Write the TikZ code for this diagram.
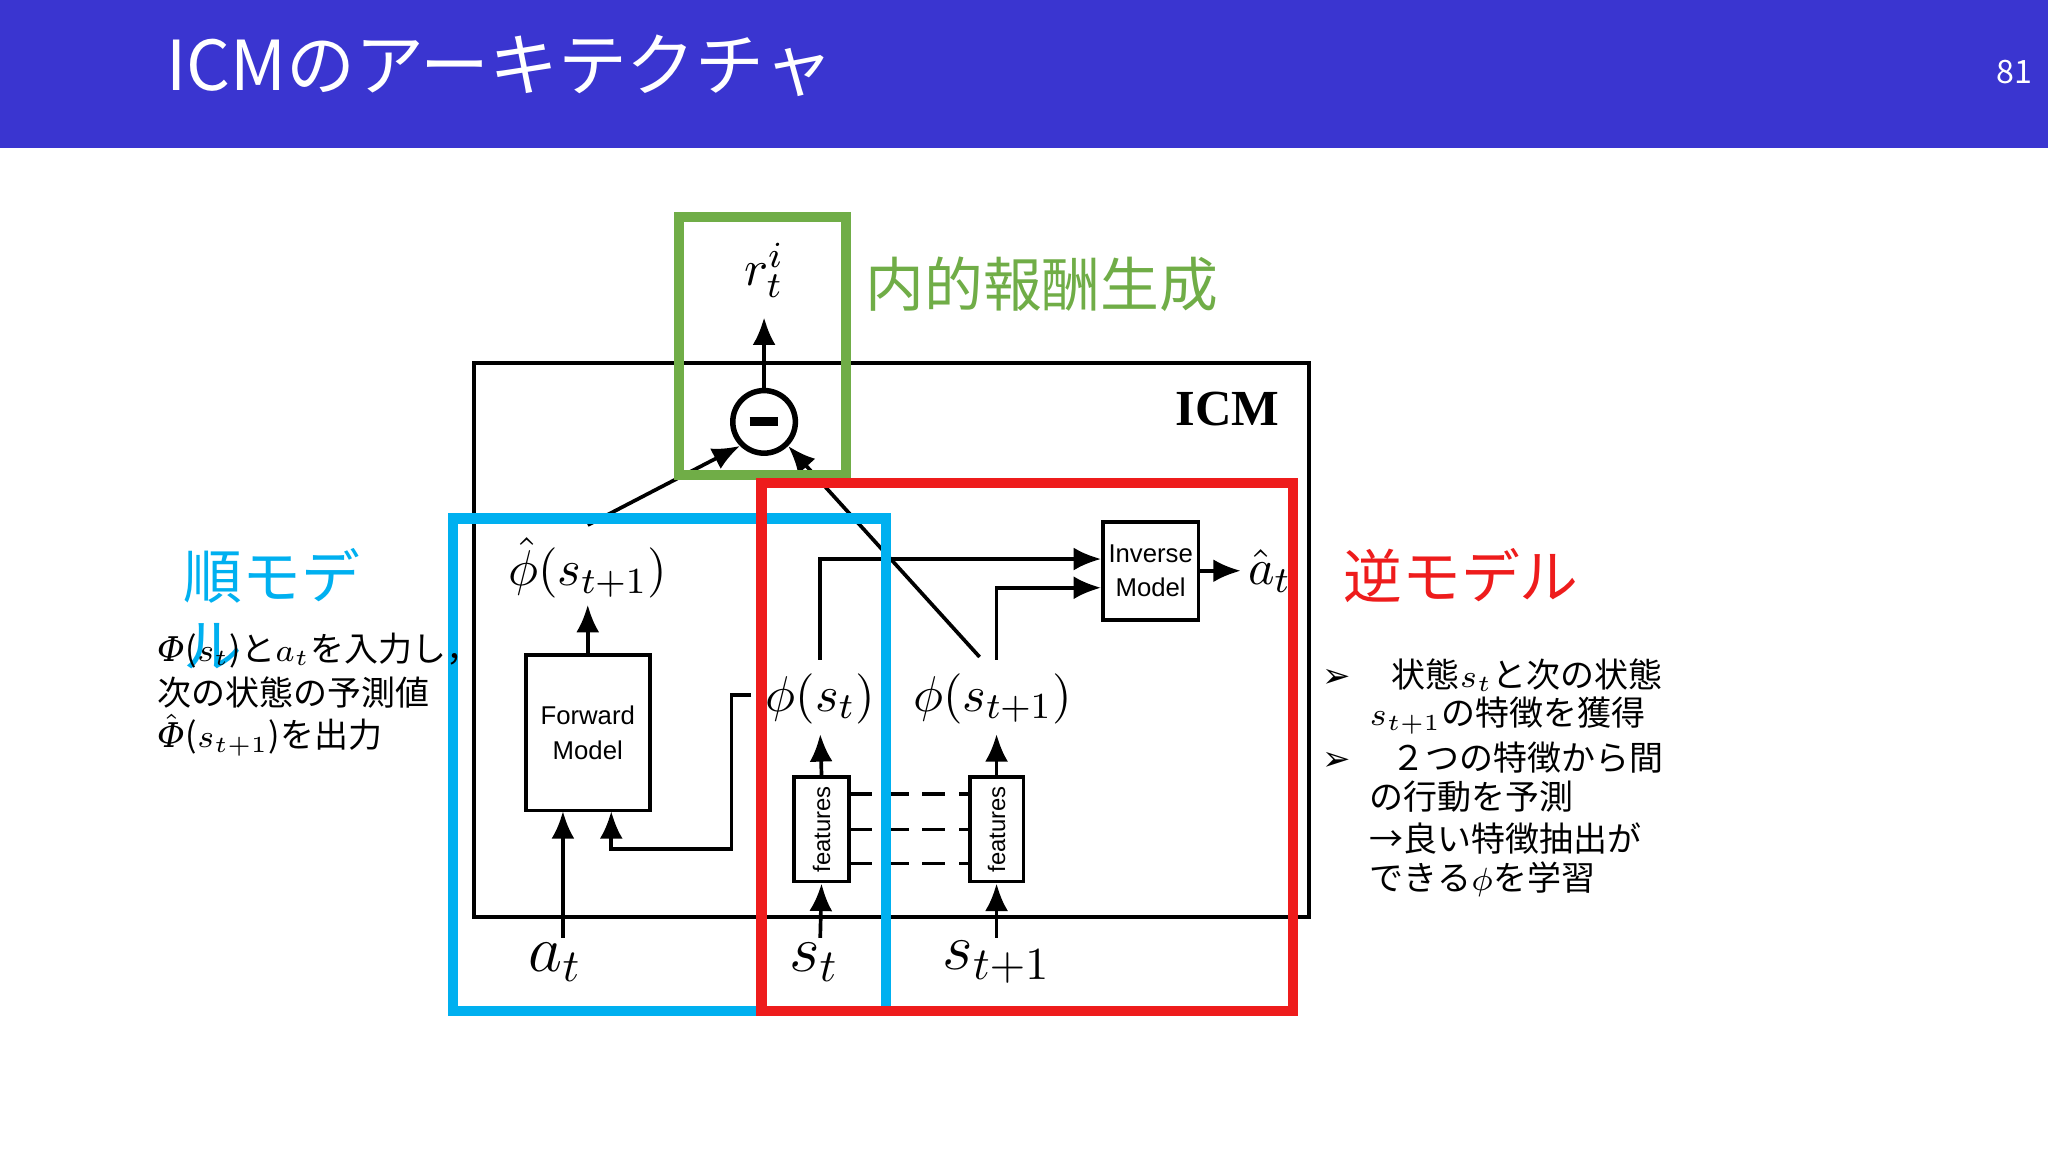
\documentclass[tikz,border=0pt]{standalone}
\usepackage{fontspec}
\usepackage{amsmath}
\setmainfont{Noto Sans CJK JP}
\newfontfamily\arialfont{Liberation Sans}
\newfontfamily\timesfont{Liberation Serif}
\newfontfamily\dejavufont{DejaVu Sans}
\newfontfamily\dejavuserif{DejaVu Serif}
\newcommand{\bigPhi}{{\dejavuserif\itshape Φ}}
\usetikzlibrary{arrows.meta}
\definecolor{titleblue}{HTML}{3A35D0}
\definecolor{icmgreen}{HTML}{70AD47}
\definecolor{icmcyan}{HTML}{00B0F0}
\definecolor{icmred}{HTML}{EE1C1C}
\tikzset{
  arr/.style={thick, -{Latex[length=6pt,width=5pt]}},
  blk/.style={draw, thick, inner sep=0pt},
  mlab/.style={font=\fontsize{11}{12}\selectfont},
  jtext/.style={anchor=west, font=\fontsize{7.4}{9}\selectfont, inner sep=0pt}
}
\begin{document}
\begin{tikzpicture}[x=0.01cm, y=-0.01cm]
	\useasboundingbox (0,0) rectangle (1568,882);
	\fill [white] (0,0) rectangle (1568,882);
	\fill [titleblue] (0,0) rectangle (1568,113);
	\node [anchor=west, white, font=\fontsize{15}{16}\selectfont] (title) at (115,50) {ICMのアーキテクチャ};
	\node [white, font=\fontsize{7}{8}\selectfont] (pnum) at (1542,55) {81};

	% ICM frame
	\draw [thick] (363,278) rectangle (1002,702);
	\node [font=\fontsize{11}{12}\selectfont\timesfont\bfseries] (icm) at (940,313) {ICM};

	% reward part
	\node [mlab] (rew) at (585,207) {$r_t^i$};
	\node [circle, draw, very thick, minimum size=48pt*0.01/0.0352, inner sep=0pt] (minus) at (585,323) {};
	\draw [line width=2pt] (574,323) -- (596,323);
	\draw [arr] (minus) -- (585,243);

	% forward model
	\node [mlab] (phihat) at (450,435) {$\hat{\phi}(s_{t+1})$};
	\node [blk, minimum width=95*0.01cm, minimum height=119*0.01cm, align=center,
	  font=\fontsize{5.6}{7.5}\selectfont\arialfont] (fwd) at (450,561) {Forward\\Model};
	\draw [arr] (fwd.north) -- (450,463);
	\node [font=\fontsize{14}{16}\selectfont] (at) at (425,737) {$a_t$};
	\draw [arr] (431,718) -- (431,621);
	\draw [arr] (450,402) -- (minus.south west);

	% features
	\node [blk, minimum width=42*0.01cm, minimum height=80*0.01cm] (feat1) at (629,635) {};
	\node [rotate=90, font=\fontsize{5.2}{6}\selectfont\arialfont] at (feat1) {features};
	\node [blk, minimum width=41*0.01cm, minimum height=80*0.01cm] (feat2) at (763,635) {};
	\node [rotate=90, font=\fontsize{5.2}{6}\selectfont\arialfont] at (feat2) {features};
	\foreach \yy in {608,635,661}
		\draw [thick, dashed, dash pattern=on 5pt off 3pt] (650,\yy) -- (743,\yy);

	\node [font=\fontsize{14}{16}\selectfont] (st) at (623,737) {$s_t$};
	\node [font=\fontsize{14}{16}\selectfont] (stt) at (763,737) {$s_{t+1}$};
	\draw [arr] (628,718) -- (feat1.south);
	\draw [arr] (763,718) -- (feat2.south);

	\node [mlab] (phist) at (628,535) {$\phi(s_t)$};
	\node [mlab] (phistt) at (760,535) {$\phi(s_{t+1})$};
	\draw [arr] (feat1.north) -- (628,562);
	\draw [arr] (feat2.north) -- (763,562);
	\draw [arr] (575,532) -- (560,532) -- (560,650) -- (468,650) -- (468,621);

	% inverse model
	\node [blk, minimum width=73*0.01cm, minimum height=75*0.01cm, align=center,
	  font=\fontsize{5.6}{7.5}\selectfont\arialfont] (inv) at (881,437) {Inverse\\Model};
	\draw [arr] (628,505) -- (628,428) -- (inv.west |- 0,428);
	\draw [arr] (763,505) -- (763,450) -- (inv.west |- 0,450);
	\node [mlab] (ahat) at (972,437) {$\hat{a}_t$};
	\draw [arr] (inv.east) -- (950,437);
	\draw [arr] (750,503) -- (minus.south east);

	% highlight frames
	\draw [icmgreen, line width=2.2pt] (520,166) rectangle (648,364);
	\draw [icmcyan, line width=2.2pt] (347,397) rectangle (678,774);
	\draw [icmred, line width=2.2pt] (583,370) rectangle (990,774);

	\node [jtext, icmgreen, font=\fontsize{12.8}{14}\selectfont] (intr) at (662,218) {内的報酬生成};
	\node [jtext, icmcyan, font=\fontsize{12.8}{14}\selectfont] (fwdl) at (140,441) {順モデ};
	\node [jtext, icmcyan, font=\fontsize{12.8}{14}\selectfont] (fwdl2) at (140,495) {ル};
	\node [jtext, icmred, font=\fontsize{12.8}{14}\selectfont] (invl) at (1028,441) {逆モデル};

	\node [jtext] (l1) at (120,498) {\bigPhi($s_t$)と$a_t$を入力し，};
	\node [jtext] (l2) at (120,530) {次の状態の予測値};
	\node [jtext] (l3) at (120,563) {$\hat{\text{\bigPhi}}$($s_{t+1}$)を出力};

	\node [jtext] (r1) at (1012,517) {{\dejavufont ➢}\hspace{1.2em}状態$s_t$と次の状態};
	\node [jtext] (r2) at (1048,548) {$s_{t+1}$の特徴を獲得};
	\node [jtext] (r3) at (1012,580) {{\dejavufont ➢}\hspace{1.2em}２つの特徴から間};
	\node [jtext] (r4) at (1048,610) {の行動を予測};
	\node [jtext] (r5) at (1048,642) {→良い特徴抽出が};
	\node [jtext] (r6) at (1048,673) {できる$\phi$を学習};
\end{tikzpicture}
\end{document}
